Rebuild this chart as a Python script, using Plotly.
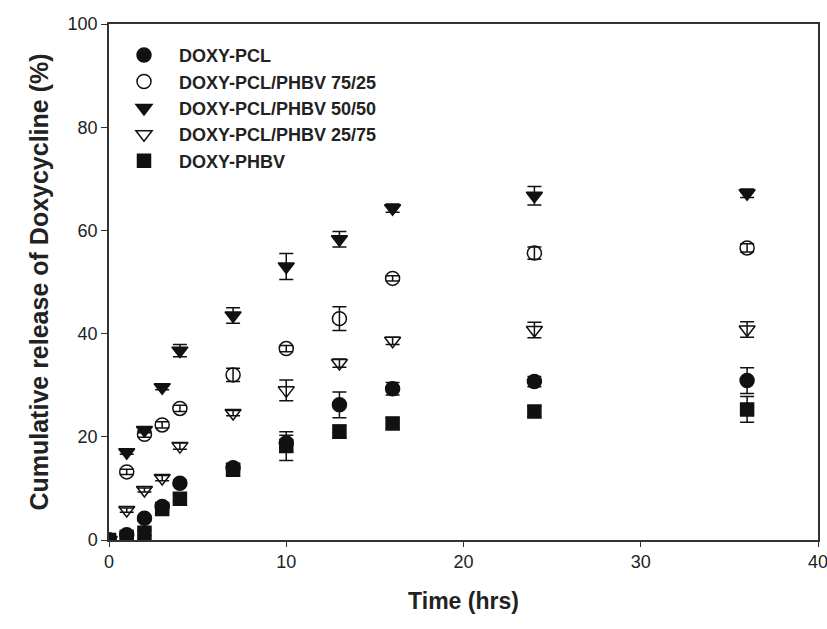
import plotly.graph_objects as go

times = [0, 1, 2, 3, 4, 7, 10, 13, 16, 24, 36]

names = ["DOXY-PCL", "DOXY-PCL/PHBV 75/25", "DOXY-PCL/PHBV 50/50",
         "DOXY-PCL/PHBV 25/75", "DOXY-PHBV"]

pcl = [0, 1.0, 4.2, 6.5, 11.0, 14.0, 18.8, 26.2, 29.3, 30.7, 30.9]
pcl_err = [0.3, 0.5, 0.5, 0.5, 0.6, 0.8, 1.5, 2.5, 1.2, 1.0, 2.5]

p7525 = [0, 13.2, 20.5, 22.3, 25.5, 32.0, 37.1, 42.9, 50.7, 55.6, 56.6]
p7525_err = [0, 0.5, 0.6, 0.6, 0.6, 1.3, 0.6, 2.3, 0.5, 1.2, 0.8]

p5050 = [0, 17.0, 21.3, 29.6, 36.7, 43.5, 53.0, 58.3, 64.3, 66.7, 67.2]
p5050_err = [0, 0.4, 0.5, 0.5, 1.2, 1.5, 2.5, 1.5, 0.8, 1.8, 0.8]

p2575 = [0, 5.8, 9.7, 12.0, 18.2, 24.6, 29.0, 34.3, 38.6, 40.7, 40.8]
p2575_err = [0, 0.4, 0.4, 0.5, 0.6, 0.5, 2.0, 0.8, 0.7, 1.5, 1.5]

phbv = [0, 0.6, 1.4, 6.0, 8.0, 13.6, 18.2, 21.0, 22.6, 24.9, 25.3]
phbv_err = [0, 0.4, 0.6, 0.6, 0.8, 1.2, 2.8, 1.3, 1.0, 1.0, 2.5]

series = [pcl, p7525, p5050, p2575, phbv]
errors = [pcl_err, p7525_err, p5050_err, p2575_err, phbv_err]
symbols = ["circle", "circle-open", "triangle-down", "triangle-down-open", "square"]
sizes = [14, 14, 14, 14, 13]

fig = go.Figure()
for name, vals, err, sym, sz in zip(names, series, errors, symbols, sizes):
    fig.add_trace(go.Scatter(
        x=times, y=vals, mode="markers", name=name,
        marker=dict(symbol=sym, size=sz, color="#111111",
                    line=dict(color="#111111", width=1.5)),
        error_y=dict(type="data", array=err, visible=True,
                     color="#111111", thickness=1.5, width=7),
        legendgroup=name,
    ))

fig.update_layout(
    width=827, height=629,
    margin=dict(l=109, r=9, t=24, b=89),
    plot_bgcolor="white", paper_bgcolor="white",
    font=dict(family="Liberation Sans, Arial, sans-serif", color="#222222"),
    showlegend=True,
    legend=dict(x=0.0, y=0.975, xanchor="left", yanchor="top",
                bgcolor="rgba(0,0,0,0)", tracegroupgap=0, itemwidth=60,
                font=dict(size=18, family="Liberation Sans, Arial, sans-serif",
                          color="#222222", weight="bold")),
    xaxis=dict(range=[0, 40], tickvals=[0, 10, 20, 30, 40],
               showgrid=False, zeroline=False, automargin=False,
               ticklabeloverflow="allow",
               showline=True, linecolor="#333333", linewidth=1.5, mirror=True,
               ticks="outside", ticklen=5, tickcolor="#333333",
               tickfont=dict(size=18, family="Liberation Sans Narrow, Arial Narrow, Liberation Sans, sans-serif"),
               title=dict(text="<b>Time (hrs)</b>", standoff=22,
                          font=dict(size=23, family="Liberation Sans Narrow, Arial Narrow, Liberation Sans, sans-serif"))),
    yaxis=dict(range=[0, 100], tickvals=[0, 20, 40, 60, 80, 100],
               showgrid=False, zeroline=False, automargin=False,
               showline=True, linecolor="#333333", linewidth=1.5, mirror=True,
               ticks="outside", ticklen=6, tickcolor="#333333",
               tickfont=dict(size=18),
               title=dict(text="<b>Cumulative release of Doxycycline (%)</b>", standoff=12,
                          font=dict(size=25))),
)

fig.write_html("out.html")
